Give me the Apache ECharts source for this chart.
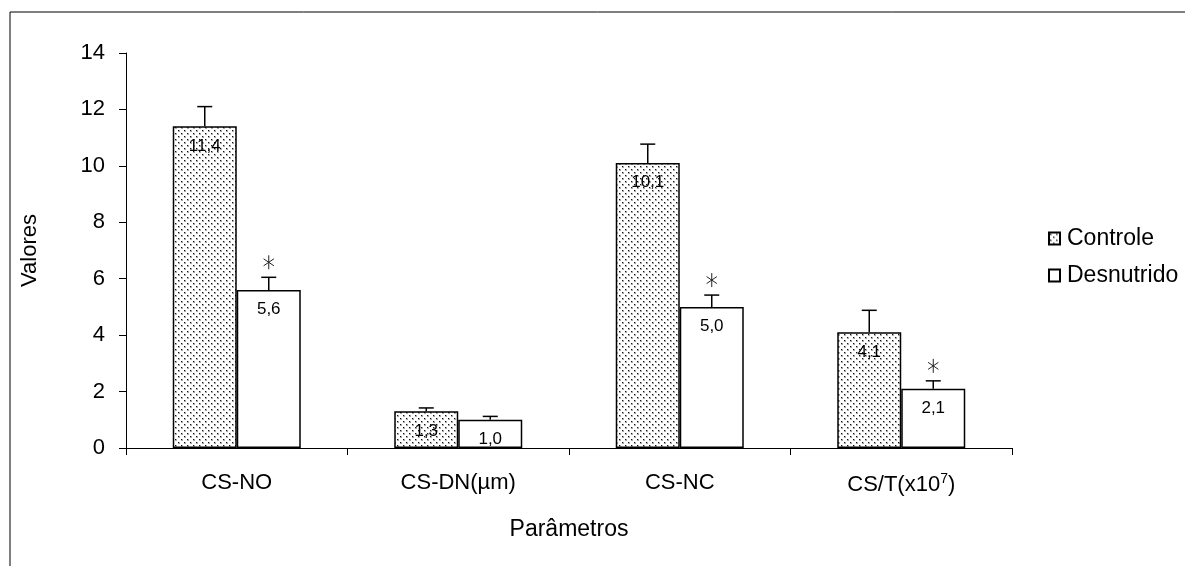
<!DOCTYPE html>
<html><head><meta charset="utf-8">
<script src="https://cdn.jsdelivr.net/npm/echarts@6/dist/echarts.min.js"></script>
<style>html,body{margin:0;padding:0;background:#fff}#c{width:1185px;height:566px}</style>
</head><body><div id="c"></div>
<script>
const categories = ['CS-NO', 'CS-DN(µm)', 'CS-NC', 'CS/T(x10^7)'];
const seriesNames = ['Controle', 'Desnutrido'];
const controle = [11.4, 1.3, 10.1, 4.1];
const desnutrido = [5.6, 1.0, 5.0, 2.1];
const controleErr = [0.7, 0.12, 0.67, 0.78];
const desnutridoErr = [0.45, 0.12, 0.42, 0.28];
const controleLabels = ['11,4', '1,3', '10,1', '4,1'];
const desnutridoLabels = ['5,6', '1,0', '5,0', '2,1'];
const significant = [true, false, true, true];
const yTicks = [0, 2, 4, 6, 8, 10, 12, 14];

const FONT = '"Liberation Sans", Arial, sans-serif';
const BAR_W = 64;

function dotPattern() {
  const c = document.createElement('canvas');
  c.width = 6; c.height = 6;
  const g = c.getContext('2d');
  g.fillStyle = '#fff'; g.fillRect(0, 0, 6, 6);
  function dot(x, y) {
    g.fillStyle = '#aaa'; g.fillRect(x, y, 2, 2);
    g.fillStyle = '#111'; g.fillRect(x, y, 1, 1);
  }
  dot(1, 1);
  dot(4, 4);
  return c;
}
const pat = { image: dotPattern(), repeat: 'repeat' };

const chart = echarts.init(document.getElementById('c'), null, { renderer: 'canvas' });

function errSeries(vals, errs, offset, stars) {
  return {
    type: 'custom',
    name: 'err' + offset,
    silent: true,
    z: 5,
    data: vals.map((v, i) => [i, v, errs[i], stars ? (stars[i] ? 1 : 0) : 0]),
    renderItem: function (params, api) {
      const idx = api.value(0), v = api.value(1), e = api.value(2), s = api.value(3);
      const p0 = api.coord([idx, v]);
      const p1 = api.coord([idx, v + e]);
      const x = p0[0] + offset;
      const ln = { stroke: '#000', lineWidth: 1.5 };
      const children = [
        { type: 'line', shape: { x1: x, y1: p0[1], x2: x, y2: p1[1] }, style: ln },
        { type: 'line', shape: { x1: x - 7.5, y1: p1[1], x2: x + 7.5, y2: p1[1] }, style: ln }
      ];
      if (s) {
        const cy = p1[1] - 15, r = 7;
        const st = { stroke: '#222', lineWidth: 1 };
        children.push({ type: 'line', shape: { x1: x, y1: cy - r, x2: x, y2: cy + r }, style: st });
        const dx = r * Math.cos(Math.PI / 6) * 0.85, dy = r * Math.sin(Math.PI / 6);
        children.push({ type: 'line', shape: { x1: x - dx, y1: cy - dy, x2: x + dx, y2: cy + dy }, style: st });
        children.push({ type: 'line', shape: { x1: x - dx, y1: cy + dy, x2: x + dx, y2: cy - dy }, style: st });
      }
      return { type: 'group', children: children };
    }
  };
}

const option = {
  animation: false,
  backgroundColor: '#fff',
  textStyle: { fontFamily: FONT },
  graphic: [
    { type: 'polyline', shape: { points: [[10, 566], [10, 12], [1185, 12]] }, style: { stroke: '#000', lineWidth: 1, fill: null } }
  ],
  grid: { left: 126, right: 173, top: 53, bottom: 118, containLabel: false },
  legend: {
    orient: 'vertical', left: 1043, top: 222, itemGap: 14,
    itemWidth: 11, itemHeight: 12, icon: 'rect',
    data: seriesNames,
    textStyle: { fontSize: 23, color: '#000', fontFamily: FONT, padding: [0, 0, 0, 2] }
  },
  xAxis: {
    type: 'category', data: categories,
    name: 'Parâmetros', nameLocation: 'middle', nameGap: 70,
    nameTextStyle: { fontSize: 23, color: '#000', fontFamily: FONT },
    axisLine: { lineStyle: { color: '#000', width: 1 } },
    axisTick: { show: true, length: 7, lineStyle: { color: '#000' } },
    axisLabel: {
      interval: 0, hideOverlap: false,
      margin: 24, color: '#000', fontSize: 22, fontFamily: FONT,
      formatter: function (v) {
        const m = v.match(/^(.*)\^(\d+)(.*)$/);
        if (m) return '{a|' + m[1] + '}{s|' + m[2] + '}{a|' + m[3] + '}';
        return '{a|' + v + '}';
      },
      rich: {
        a: { fontSize: 22, fontFamily: FONT, color: '#000' },
        s: { fontSize: 14, fontFamily: FONT, color: '#000', verticalAlign: 'top', padding: [0, 0, 12, 0] }
      }
    }
  },
  yAxis: {
    type: 'value', min: 0, max: 14, interval: 2,
    name: 'Valores', nameLocation: 'middle', nameGap: 85, nameRotate: 90,
    nameTextStyle: { fontSize: 22, color: '#000', fontFamily: FONT },
    axisLine: { show: true, lineStyle: { color: '#000', width: 1 } },
    axisTick: { show: true, length: 7, lineStyle: { color: '#000' } },
    splitLine: { show: false },
    axisLabel: { margin: 21, color: '#000', fontSize: 22, fontFamily: FONT,
      formatter: function (v) { return yTicks.indexOf(v) >= 0 ? String(v) : ''; } }
  },
  series: [
    {
      name: 'Controle', type: 'bar', barWidth: BAR_W, barGap: '0%',
      data: controle,
      itemStyle: { color: pat, borderColor: '#000', borderWidth: 1.5 },
      label: { show: true, position: 'insideTop', distance: 11, fontSize: 17, color: '#000', fontFamily: FONT,
        formatter: function (p) { return controleLabels[p.dataIndex]; } }
    },
    {
      name: 'Desnutrido', type: 'bar', barWidth: BAR_W, barGap: '0%',
      data: desnutrido,
      itemStyle: { color: '#fff', borderColor: '#000', borderWidth: 1.5 },
      label: { show: true, position: 'insideTop', distance: 11, fontSize: 17, color: '#000', fontFamily: FONT,
        formatter: function (p) { return desnutridoLabels[p.dataIndex]; } }
    },
    errSeries(controle, controleErr, -BAR_W / 2, null),
    errSeries(desnutrido, desnutridoErr, BAR_W / 2, significant)
  ]
};
chart.setOption(option);
</script></body></html>
